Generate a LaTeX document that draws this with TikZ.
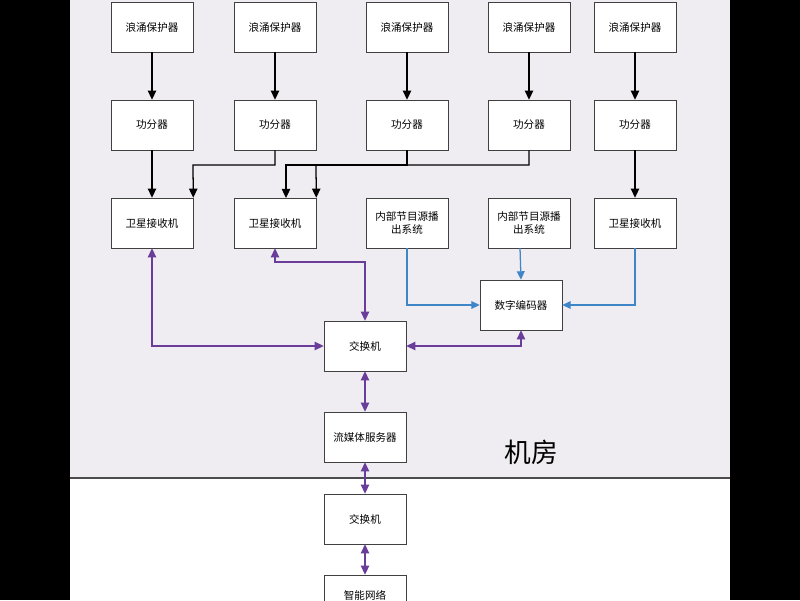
\documentclass[tikz,border=0pt]{standalone}
\usepackage{fontspec}
\setmainfont{Noto Sans CJK SC}
\usetikzlibrary{arrows.meta}
\definecolor{roomgray}{HTML}{EFEDF2}
\definecolor{linkpurple}{HTML}{6A3D9A}
\definecolor{linkblue}{HTML}{3F86C8}
\tikzset{
  box/.style={draw=black!75, fill=white, minimum width=2.05cm, minimum height=1.25cm, align=center, font=\fontsize{7.5}{9.5}\selectfont, inner sep=1pt},
  feed/.style={-{Triangle[length=6.5pt,width=6pt]}, line width=0.9pt, black},
  code/.style={-{Triangle[length=6pt,width=5.5pt]}, line width=0.9pt, linkblue},
  net/.style={{Triangle[length=6.5pt,width=6pt]}-{Triangle[length=6.5pt,width=6pt]}, line width=0.9pt, linkpurple}
}
\begin{document}
\begin{tikzpicture}[x=0.025cm,y=-0.025cm]
  % background and room
  \useasboundingbox (0,0) rectangle (800,600);
  \fill[black] (0,0) rectangle (800,600);
  \fill[white] (70,0) rectangle (730,600);
  \fill[roomgray] (70,0) rectangle (730,478);
  \draw[black!70, line width=0.8pt] (70,478) -- (730,478);
  \node[font=\fontsize{19}{22}\selectfont] (room) at (531,452) {机房};
  % surge protectors and splitters
  \foreach \n/\x in {1/152,2/275,3/407,4/529,5/635}{
    \node[box] (sp\n) at (\x,27) {浪涌保护器};
    \node[box] (div\n) at (\x,125) {功分器};
    \draw[feed] (sp\n) -- (div\n);
  }
  % receivers and sources
  \node[box] (rx1) at (152,223) {卫星接收机};
  \node[box] (rx2) at (275,223) {卫星接收机};
  \node[box] (src1) at (407,223) {内部节目源播\\出系统};
  \node[box] (src2) at (529,223) {内部节目源播\\出系统};
  \node[box] (rx3) at (635,223) {卫星接收机};
  \node[box] (enc) at (521,305) {数字编码器};
  \node[box] (sw1) at (365,346) {交换机};
  \node[box] (media) at (365,437) {流媒体服务器};
  \node[box] (sw2) at (365,519) {交换机};
  \node[box] (smart) at (365,600) {\raisebox{7pt}{智能网络}};
  % splitter feeds
  \draw[feed] (div1) -- (rx1);
  \draw[feed] (div2.south) |- (193,165) -- (rx1.north east);
  \draw[feed] (div3.south) |- (286,165) -- (286,198);
  \draw[feed] (div4.south) |- (316,165) -- (rx2.north east);
  \draw[feed] (div5) -- (rx3);
  % encoder inputs
  \draw[code] (src1.south) |- (enc.west);
  \draw[code] (520,248) -- (enc.north);
  \draw[code] (rx3.south) |- (enc.east);
  % network links
  \draw[net] (rx1.south) |- (sw1.west);
  \draw[net] (rx2.south) |- (365,262) -- (sw1.north);
  \draw[net] (sw1.east) -| (enc.south);
  \draw[net] (sw1) -- (media);
  \draw[net] (media) -- (sw2);
  \draw[net] (sw2) -- (smart);
\end{tikzpicture}
\end{document}
